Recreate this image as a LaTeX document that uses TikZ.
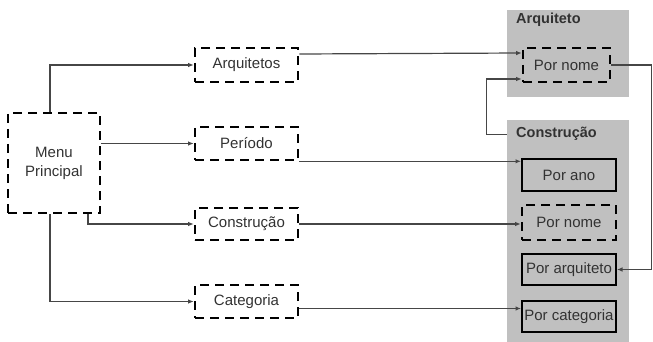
\documentclass[tikz,border=0pt]{standalone}
\usepackage{fontspec}
\setmainfont{Liberation Sans}
\usetikzlibrary{arrows.meta,calc}
\definecolor{panelgray}{RGB}{192,192,192}
\definecolor{linegray}{RGB}{70,70,70}
\definecolor{textgray}{RGB}{50,50,50}
\begin{document}
\begin{tikzpicture}[x=1pt,y=-1pt,
  every node/.style={font=\fontsize{15}{19}\selectfont, text=textgray, inner sep=0pt},
  dashbox/.style={draw=black, line width=2.6pt, dash pattern=on 9pt off 6pt, align=center},
  solidbox/.style={draw=black, line width=2pt},
  panel/.style={fill=panelgray, draw=none},
  title/.style={font=\bfseries\fontsize{14.5}{17}\selectfont, text=textgray, anchor=west},
  conn/.style={draw=linegray, line width=1.2pt, -{Latex[length=5.5pt,width=4.5pt]}}]
\useasboundingbox (0,0) rectangle (653,342);

% group panels on the right
\node[panel, minimum width=122pt, minimum height=87pt] (apanel) at (568,53.5) {};
\node[panel, minimum width=122pt, minimum height=222pt] (cpanel) at (568,231) {};
\node[title] (atitle) at (516,20) {Arquiteto};
\node[title] (ctitle) at (516,134) {Construção};

% main menu
\node[dashbox, minimum width=92pt, minimum height=100pt] (menu) at (54,163) {Menu\\Principal};

% first-level options
\node[dashbox, minimum width=103pt, minimum height=34pt] (arqs) at (246.5,65) {Arquitetos};
\node[dashbox, minimum width=103pt, minimum height=33pt] (per) at (246.5,143.5) {Período};
\node[dashbox, minimum width=103pt, minimum height=32pt] (cons) at (246.5,224) {Construção};
\node[dashbox, minimum width=103pt, minimum height=33pt] (cat) at (246.5,301.5) {Categoria};

% search entries
\node[dashbox, minimum width=87pt, minimum height=34pt] (pnA) at (566.5,65) {Por nome};
\node[solidbox, minimum width=94pt, minimum height=32pt] (pano) at (569,175) {Por ano};
\node[dashbox, minimum width=94pt, minimum height=35pt] (pnC) at (569,222.5) {Por nome};
\node[solidbox, minimum width=94pt, minimum height=31pt] (parq) at (569,269.5) {Por arquiteto};
\node[solidbox, minimum width=94pt, minimum height=31pt] (pcat) at (569,316.5) {Por categoria};

% exit points on the option boxes
\coordinate (arqsout) at ([yshift=11pt]arqs.east);
\coordinate (catout) at ([yshift=-7pt]cat.east);

% menu to first-level options
\draw[conn] ([xshift=-4pt]menu.north) |- (arqs.west);
\draw[conn] (menu.east |- per.west) -- (per.west);
\draw[conn] ([xshift=34pt]menu.south) |- (cons.west);
\draw[conn] ([xshift=-4pt]menu.south) |- (cat.west);

% first-level options to search entries
\draw[conn] (arqsout) -- ([yshift=12pt]pnA.west);
\draw[conn] (per.south east) -- (pano.west |- per.south east);
\draw[conn] (cons.east) -- (pnC.west |- cons.east);
\draw[conn] (catout) -- (pcat.west |- catout);

% cross links between the groups
\draw[conn] ([yshift=-15pt]cpanel.north west) -- ++(-20,0) |- ([yshift=-14pt]pnA.west);
\draw[conn] (pnA.east) -- ++(40,0) |- (parq.east);
\end{tikzpicture}
\end{document}
